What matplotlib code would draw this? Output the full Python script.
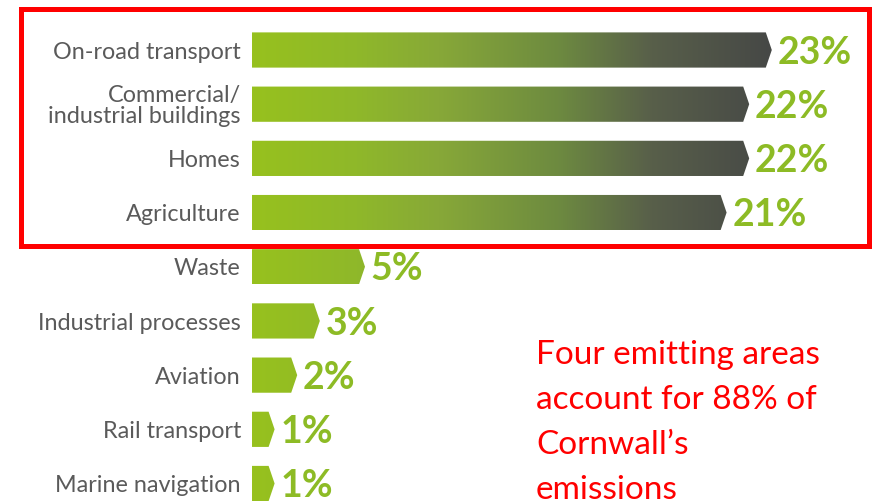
import numpy as np
import matplotlib
matplotlib.use("Agg")
import matplotlib.pyplot as plt
from matplotlib.patches import Polygon, Rectangle
from matplotlib.colors import LinearSegmentedColormap

# Cornwall emissions by sector (share of total, %)
sectors = ["On-road transport", "Commercial/\nindustrial buildings", "Homes",
           "Agriculture", "Waste", "Industrial processes", "Aviation",
           "Rail transport", "Marine navigation"]
shares = [23, 22, 22, 21, 5, 3, 2, 1, 1]
note = "Four emitting areas\naccount for 88% of\nCornwall\u2019s\nemissions"

W, H = 873, 504
fig = plt.figure(figsize=(W / 100, H / 100), dpi=100)
fig.patch.set_facecolor("white")

# axes: x=0 at the bar base, ~22.6 px per percent
px_per = 22.6
ax = fig.add_axes([252 / W, 0, 1 - 252 / W, 1])
ax.set_xlim(0, (W - 252) / px_per)
step = (483.5 - 50) / (len(sectors) - 1)
ax.set_ylim(len(sectors) - 1 + (H - 483.5) / step, -50 / step)
ax.axis("off")

grad = LinearSegmentedColormap.from_list("g", [
    (0.0, "#97c11e"), (0.2, "#8fb82a"), (0.36, "#87a838"),
    (0.59, "#6d8a40"), (0.77, "#585f4a"), (1.0, "#464846")])
gimg = np.linspace(0, 1, 256).reshape(1, -1)

bh = 0.65
tip = 6 / px_per
span = max(shares)
for i, v in enumerate(shares):
    pts = [(0, i - bh / 2), (v - tip, i - bh / 2), (v, i),
           (v - tip, i + bh / 2), (0, i + bh / 2)]
    poly = Polygon(pts, closed=True, facecolor="none", edgecolor="none")
    ax.add_patch(poly)
    im = ax.imshow(gimg, cmap=grad, aspect="auto", interpolation="bilinear",
                   extent=[0, span, i + bh / 2, i - bh / 2])
    im.set_clip_path(poly)
    ax.annotate(f"{v}%", xy=(v, i), xytext=(4, -9.8), textcoords="offset points",
                ha="left", va="baseline", fontsize=27, fontweight="bold",
                family="Lato", color="#8dbb25")
    ax.annotate(sectors[i], xy=(0, i), xytext=(-8, -1.5), textcoords="offset points",
                ha="right", va="center", fontsize=16.8, family="Lato",
                color="#5a5a5a", linespacing=1.0)

ax.set_xlim(0, (W - 252) / px_per)

# red highlight box around the top four sectors
fig.patches.append(Rectangle((20.5 / W, 1 - 245.5 / H), (869 - 20.5) / W,
                             (245.5 - 8.5) / H, transform=fig.transFigure,
                             fill=False, edgecolor="#ff0000", linewidth=3.6))

fig.text(536 / W, 1 - 499 / H, note, ha="left", va="baseline", fontsize=24,
         family="Lato", color="#ff0000", linespacing=1.63)

fig.savefig("out.png", dpi=100)
